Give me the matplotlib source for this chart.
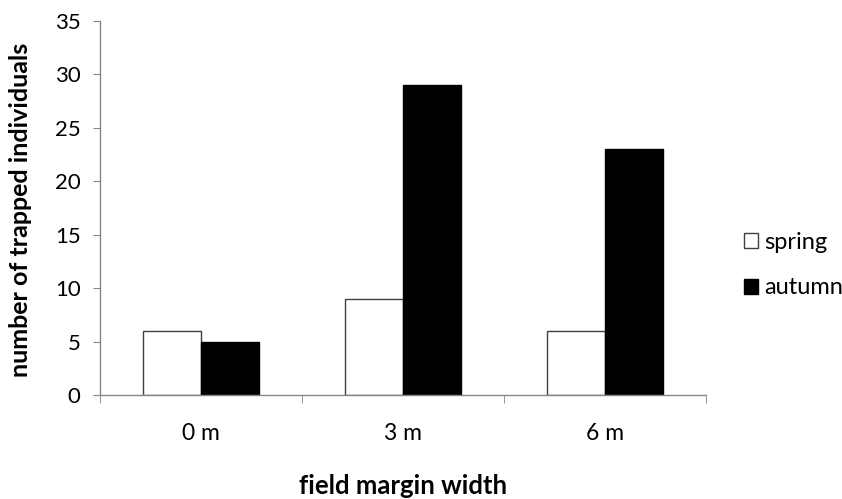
import matplotlib
matplotlib.use("Agg")
import matplotlib.pyplot as plt
import numpy as np
from matplotlib.patches import Patch

categories = ["0 m", "3 m", "6 m"]
spring = [6, 9, 6]
autumn = [5, 29, 23]
yticks = [0, 5, 10, 15, 20, 25, 30, 35]

plt.rcParams['font.family'] = ['Lato', 'DejaVu Sans']

fig = plt.figure(figsize=(8.42, 4.99), dpi=100)
ax = fig.add_axes([100/842, 1-395/499, 606/842, 374/499])

x = np.arange(len(categories))
w = 1/3.5
ax.bar(x - w/2, spring, w, color="white", edgecolor="#404040", linewidth=1.0)
ax.bar(x + w/2, autumn, w, color="black", edgecolor="black", linewidth=1.0)

ax.set_xlim(-0.5, len(categories) - 0.5)
ax.set_ylim(0, 35)
ax.set_yticks(yticks)
ax.set_xticks(x)
ax.set_xticklabels(categories, fontsize=16.5)
ax.set_xticks(np.arange(-0.5, len(categories)), minor=True)
ax.tick_params(axis='x', which='major', length=0, pad=20)
ax.tick_params(axis='x', which='minor', length=5.5, color="#868686", direction='out')
ax.tick_params(axis='y', length=5, color="#868686", direction='out', labelsize=16, pad=9)

for s in ["top", "right"]:
    ax.spines[s].set_visible(False)
for s in ["left", "bottom"]:
    ax.spines[s].set_color("#868686")
    ax.spines[s].set_linewidth(1.0)

ax.set_ylabel("number of trapped individuals", fontsize=18, fontweight="bold")
ax.yaxis.set_label_coords(-0.112, 0.495)
fig.text(0.5 * (100 + 706) / 842, 1 - 486/499, "field margin width", fontsize=18.5,
         fontweight="bold", ha="center", va="center")

handles = [Patch(facecolor="white", edgecolor="#404040", label="spring"),
           Patch(facecolor="black", edgecolor="black", label="autumn")]
fig.legend(handles=handles, loc="center left", bbox_to_anchor=(744/842, 1 - 265/499),
           frameon=False, fontsize=17, handlelength=0.6, handleheight=0.6,
           handletextpad=0.25, labelspacing=1.05, borderpad=0, borderaxespad=0)

fig.savefig("out.png", dpi=100)
